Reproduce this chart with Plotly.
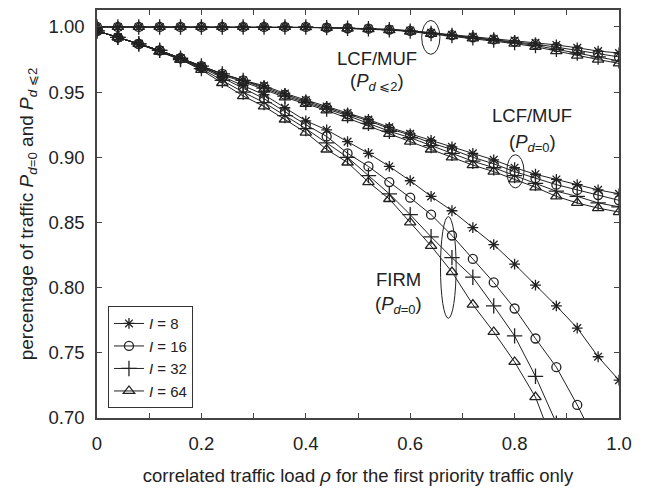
import plotly.graph_objects as go

rho = [0.00, 0.04, 0.08, 0.12, 0.16, 0.20, 0.24, 0.28, 0.32, 0.36, 0.40, 0.44, 0.48,
       0.52, 0.56, 0.60, 0.64, 0.68, 0.72, 0.76, 0.80, 0.84, 0.88, 0.92, 0.96, 1.00]

# LCF/MUF  P_{d<=2}
lcf_le2_I8  = [1.000, 1.000, 1.000, 1.000, 1.000, 1.000, 1.000, 1.000, 1.000, 1.000, 1.000, 0.9995, 0.9991,
               0.9988, 0.9982, 0.9972, 0.9956, 0.9940, 0.9925, 0.9910, 0.9895, 0.9878, 0.9862, 0.9840, 0.9815, 0.9800]
lcf_le2_I16 = [1.000, 1.000, 1.000, 1.000, 1.000, 1.000, 1.000, 1.000, 1.000, 1.000, 1.000, 0.9995, 0.9990,
               0.9987, 0.9980, 0.9970, 0.9953, 0.9937, 0.9920, 0.9905, 0.9888, 0.9868, 0.9845, 0.9820, 0.9795, 0.9770]
lcf_le2_I32 = [1.000, 1.000, 1.000, 1.000, 1.000, 1.000, 1.000, 1.000, 1.000, 1.000, 1.000, 0.9995, 0.9990,
               0.9986, 0.9978, 0.9968, 0.9950, 0.9934, 0.9917, 0.9900, 0.9880, 0.9858, 0.9828, 0.9800, 0.9770, 0.9740]
lcf_le2_I64 = [1.000, 1.000, 1.000, 1.000, 1.000, 1.000, 1.000, 1.000, 1.000, 1.000, 0.9998, 0.9993, 0.9988,
               0.9984, 0.9976, 0.9965, 0.9947, 0.9930, 0.9913, 0.9895, 0.9872, 0.9848, 0.9815, 0.9780, 0.9750, 0.9720]

# LCF/MUF  P_{d=0}
lcf_eq0_I8  = [0.997, 0.992, 0.987, 0.982, 0.976, 0.970, 0.964, 0.959, 0.955, 0.949, 0.944, 0.939, 0.934,
               0.929, 0.923, 0.918, 0.913, 0.908, 0.903, 0.898, 0.892, 0.887, 0.883, 0.879, 0.875, 0.872]
lcf_eq0_I16 = [0.997, 0.992, 0.987, 0.982, 0.976, 0.970, 0.964, 0.959, 0.954, 0.948, 0.943, 0.938, 0.933,
               0.928, 0.922, 0.917, 0.911, 0.906, 0.900, 0.895, 0.889, 0.884, 0.879, 0.875, 0.871, 0.867]
lcf_eq0_I32 = [0.997, 0.992, 0.987, 0.982, 0.976, 0.970, 0.964, 0.959, 0.953, 0.947, 0.942, 0.937, 0.932,
               0.926, 0.920, 0.915, 0.909, 0.903, 0.897, 0.892, 0.886, 0.880, 0.874, 0.870, 0.865, 0.862]
lcf_eq0_I64 = [0.997, 0.992, 0.987, 0.981, 0.975, 0.969, 0.963, 0.958, 0.952, 0.946, 0.941, 0.936, 0.930,
               0.924, 0.918, 0.912, 0.906, 0.900, 0.894, 0.889, 0.883, 0.877, 0.870, 0.865, 0.861, 0.858]

# FIRM  P_{d=0}
firm_I8  = [0.997, 0.992, 0.987, 0.982, 0.976, 0.970, 0.962, 0.955, 0.948, 0.938, 0.928, 0.921, 0.912,
            0.903, 0.893, 0.882, 0.870, 0.859, 0.846, 0.833, 0.818, 0.802, 0.786, 0.769, 0.747, 0.729]
firm_I16 = [0.997, 0.992, 0.987, 0.982, 0.976, 0.969, 0.961, 0.953, 0.945, 0.935, 0.925, 0.916, 0.903,
            0.893, 0.881, 0.869, 0.856, 0.840, 0.822, 0.804, 0.784, 0.761, 0.739, 0.710, 0.678, 0.643]
firm_I32 = [0.997, 0.992, 0.987, 0.982, 0.975, 0.968, 0.959, 0.950, 0.942, 0.932, 0.922, 0.911, 0.900,
            0.886, 0.872, 0.856, 0.839, 0.823, 0.808, 0.786, 0.763, 0.732, 0.696, 0.655, 0.610, 0.560]
firm_I64 = [0.997, 0.992, 0.987, 0.981, 0.975, 0.967, 0.957, 0.947, 0.939, 0.929, 0.919, 0.906, 0.896,
            0.881, 0.868, 0.850, 0.832, 0.812, 0.787, 0.766, 0.743, 0.716, 0.676, 0.632, 0.585, 0.535]

x_tick_vals = [0, 0.2, 0.4, 0.6, 0.8, 1.0]
x_tick_text = ["0", "0.2", "0.4", "0.6", "0.8", "1.0"]
x_minor_vals = [0.1, 0.3, 0.5, 0.7, 0.9]
y_tick_vals = [0.70, 0.75, 0.80, 0.85, 0.90, 0.95, 1.00]
y_tick_text = ["0.70", "0.75", "0.80", "0.85", "0.90", "0.95", "1.00"]

labels = ["<i>I</i> = 8", "<i>I</i> = 16", "<i>I</i> = 32", "<i>I</i> = 64"]
symbols = ["asterisk-open", "circle-open", "cross-thin-open", "triangle-up-open"]
sizes = [9, 9, 11, 10]
groups = [
    [lcf_le2_I8, lcf_eq0_I8, firm_I8],
    [lcf_le2_I16, lcf_eq0_I16, firm_I16],
    [lcf_le2_I32, lcf_eq0_I32, firm_I32],
    [lcf_le2_I64, lcf_eq0_I64, firm_I64],
]

ink = "#222222"
fig = go.Figure()
for k, series in enumerate(groups):
    for j, ys in enumerate(series):
        fig.add_trace(go.Scatter(
            x=rho, y=ys, mode="lines+markers",
            name=labels[k], legendgroup=labels[k], showlegend=(j == 0),
            line=dict(color=ink, width=1),
            marker=dict(symbol=symbols[k], size=sizes[k], color=ink,
                        line=dict(color=ink, width=1.3)),
        ))

font_main = "Liberation Sans, Arial, Helvetica, sans-serif"

fig.update_layout(
    width=648, height=491,
    margin=dict(l=97, r=29, t=8, b=71),
    paper_bgcolor="white", plot_bgcolor="white",
    font=dict(family=font_main, size=18, color=ink),
    showlegend=True,
    legend=dict(x=0.021, y=0.024, xanchor="left", yanchor="bottom",
                bgcolor="white", bordercolor="#333333", borderwidth=1,
                font=dict(size=15), tracegroupgap=0, itemwidth=30,
                traceorder="normal"),
)

axis_common = dict(
    showgrid=False, zeroline=False,
    showline=True, linecolor="#444444", linewidth=1.5, mirror="ticks",
    ticks="inside", ticklen=5, tickcolor="#444444", tickwidth=1.2,
    tickmode="array", tickfont=dict(size=18.5),
)

fig.update_xaxes(
    range=[0, 1.0], tickvals=x_tick_vals, ticktext=x_tick_text, ticklabelstandoff=8,
    minor=dict(tickmode="array", tickvals=x_minor_vals, ticks="inside", ticklen=5,
               tickcolor="#444444", tickwidth=1.2, showgrid=False),
    title=dict(text="correlated traffic load <i>ρ</i> for the first priority traffic only",
               font=dict(size=18.5), standoff=16),
    **axis_common,
)
fig.update_yaxes(
    range=[0.70, 1.013], tickvals=y_tick_vals, ticktext=y_tick_text, ticklabelstandoff=7,
    title=dict(text="percentage of traffic <i>P</i><sub><i>d</i>=0</sub> and <i>P</i><sub><i>d</i> ⩽2</sub>",
               font=dict(size=19), standoff=10),
    **axis_common,
)

# ellipses marking the curve groups
ell = dict(type="circle", xref="x", yref="y", line=dict(color=ink, width=1))
fig.add_shape(x0=0.622, x1=0.657, y0=0.979, y1=1.005, **ell)
fig.add_shape(x0=0.785, x1=0.818, y0=0.8765, y1=0.902, **ell)
fig.add_shape(x0=0.658, x1=0.688, y0=0.7765, y1=0.8545, **ell)

ann = dict(xref="x", yref="y", showarrow=False, font=dict(size=18.5, color=ink))
fig.add_annotation(x=0.537, y=0.976, text="LCF/MUF", **ann)
fig.add_annotation(x=0.537, y=0.958, text="(<i>P</i><sub><i>d</i> ⩽2</sub>)", **ann)
fig.add_annotation(x=0.833, y=0.932, text="LCF/MUF", **ann)
fig.add_annotation(x=0.835, y=0.911, text="(<i>P</i><sub><i>d</i>=0</sub>)", **ann)
fig.add_annotation(x=0.577, y=0.806, text="FIRM", **ann)
fig.add_annotation(x=0.577, y=0.787, text="(<i>P</i><sub><i>d</i>=0</sub>)", **ann)

fig.write_html("out.html")
